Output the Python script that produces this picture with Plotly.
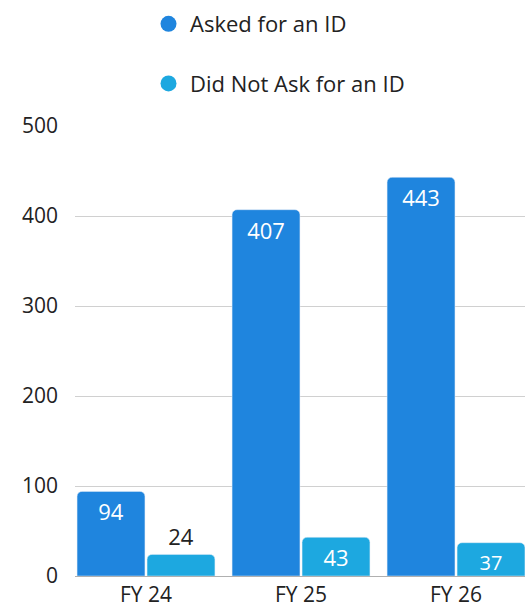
import plotly.graph_objects as go

categories = ["FY 24", "FY 25", "FY 26"]
asked = [94, 407, 443]
not_asked = [24, 43, 37]
series_names = ["Asked for an ID", "Did Not Ask for an ID"]
colors = ["#1F85DE", "#1DA8E0"]
y_ticks = [0, 100, 200, 300, 400, 500]

FONT = "Open Sans"
x = list(range(len(categories)))

fig = go.Figure()

def positions(vals, threshold=30):
    return ["outside" if v < threshold else "inside" for v in vals]

def text_colors(vals, threshold=30):
    return ["#222222" if v < threshold else "white" for v in vals]

for name, vals, col in zip(series_names, [asked, not_asked], colors):
    fig.add_trace(go.Bar(
        x=x, y=vals, name=name, marker_color=col, showlegend=False,
        text=[str(v) for v in vals], textposition=positions(vals),
        insidetextanchor="end", textangle=0,
        textfont=dict(family=FONT, size=22, color=text_colors(vals)),
        cliponaxis=False,
    ))

for i, (name, col) in enumerate(zip(series_names, colors)):
    fig.add_trace(go.Scatter(
        x=[None], y=[None], mode="markers", name=name,
        marker=dict(symbol="circle", size=22, color=col),
        legendgroup=f"g{i}",
    ))

fig.update_layout(
    width=525, height=607,
    margin=dict(l=75, r=0, t=126, b=31),
    plot_bgcolor="white", paper_bgcolor="white",
    barmode="group", bargap=0.097, bargroupgap=0.03,
    barcornerradius=5,
    font=dict(family=FONT, size=21, color="#222222"),
    showlegend=True,
    legend=dict(
        orientation="v", x=0.16, xanchor="left", y=0.995, yanchor="top",
        xref="paper", yref="container",
        font=dict(family=FONT, size=22, color="#222222"),
        tracegroupgap=28, itemsizing="trace", itemwidth=33,
    ),
)

fig.update_xaxes(
    range=[-0.458, 2.445], tickmode="array", tickvals=x, ticktext=categories,
    showgrid=False, zeroline=False, showline=False, ticks="",
    ticklabelstandoff=4, automargin=False,
    tickfont=dict(family=FONT, size=21, color="#222222"),
    fixedrange=True,
)
fig.update_yaxes(
    range=[0, 500], tickmode="array", tickvals=y_ticks,
    showgrid=True, gridcolor="#D0D0D0", gridwidth=1,
    zeroline=True, zerolinecolor="#B0B0B0", zerolinewidth=1,
    showline=False, ticks="", ticklabelstandoff=16, automargin=False,
    tickfont=dict(family=FONT, size=21, color="#222222"),
)

fig.write_html("out.html")
